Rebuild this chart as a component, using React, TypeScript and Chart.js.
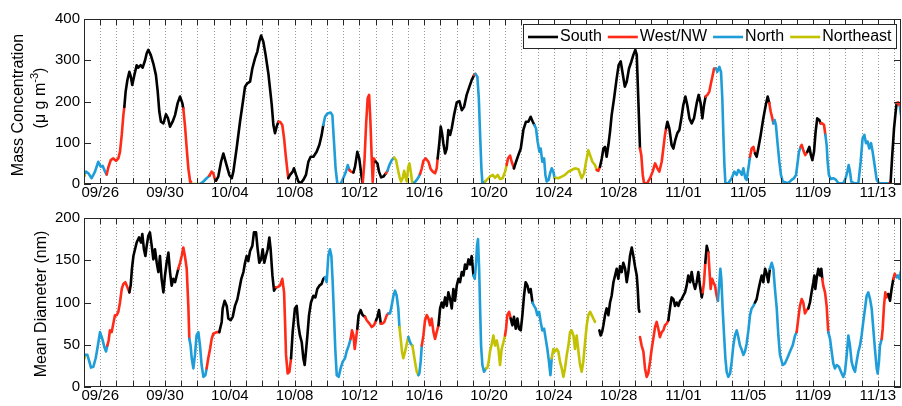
import React, { useEffect, useRef } from 'react';
import { Chart, registerables } from 'chart.js';
Chart.register(...registerables);

const FONT = "'Liberation Sans', Arial, Helvetica, sans-serif";

const windCodes = ['S', 'W', 'N', 'E'];
const windNames = ['South', 'West/NW', 'North', 'Northeast'];
const windColors = ['#000000', '#ff2a17', '#1e9dd9', '#c2c200'];

// day 0 = 09/25 00:00
const tickDays = [1, 5, 9, 13, 17, 21, 25, 29, 33, 37, 41, 45, 49];
const tickLabels = ['09/26', '09/30', '10/04', '10/08', '10/12', '10/16', '10/20', '10/24', '10/28', '11/01', '11/05', '11/09', '11/13'];
const dayMax = 50.43;

const massTicks = [0, 100, 200, 300, 400];
const diamTicks = [0, 50, 100, 150, 200];

// [day, mass concentration (ug m-3), wind sector]
const massSeries: [number, number | null, string][] = [
  [0.00, 20, 'E'], [0.05, 27, 'E'], [0.12, 30, 'N'], [0.27, 26, 'N'], [0.47, 14, 'N'], [0.68, 30, 'N'], [0.88, 54, 'N'],
  [1.03, 42, 'N'], [1.15, 44, 'N'], [1.30, 30, 'N'], [1.40, 23, 'N'], [1.50, 40, 'W'], [1.65, 58, 'W'], [1.81, 62, 'W'],
  [1.98, 56, 'W'], [2.12, 62, 'W'], [2.22, 78, 'W'], [2.33, 119, 'W'], [2.43, 167, 'W'], [2.49, 187, 'W'],
  [2.57, 224, 'S'], [2.68, 252, 'S'], [2.80, 272, 'S'], [2.88, 262, 'S'], [2.98, 240, 'S'], [3.11, 264, 'S'],
  [3.25, 288, 'S'], [3.35, 282, 'S'], [3.50, 288, 'S'], [3.62, 282, 'S'], [3.77, 300, 'S'], [3.87, 317, 'S'],
  [3.97, 325, 'S'], [4.12, 313, 'S'], [4.28, 292, 'S'], [4.44, 264, 'S'], [4.55, 224, 'S'], [4.65, 175, 'S'],
  [4.75, 151, 'S'], [4.90, 147, 'S'], [5.06, 169, 'S'], [5.18, 160, 'S'], [5.31, 139, 'S'], [5.47, 151, 'S'],
  [5.62, 167, 'S'], [5.78, 196, 'S'], [5.93, 212, 'S'], [6.07, 196, 'S'], [6.13, 183, 'S'], [6.23, 143, 'W'],
  [6.34, 86, 'W'], [6.44, 38, 'W'], [6.55, 6, 'W'], [6.60, 0, 'W'], [6.75, 0, 'E'], [7.16, 0, 'E'], [7.37, 6, 'N'],
  [7.57, 14, 'N'], [7.74, 20, 'N'], [7.88, 30, 'W'], [7.98, 26, 'W'], [8.09, 10, 'W'], [8.15, 8, 'W'],
  [8.29, 18, 'S'], [8.46, 54, 'S'], [8.60, 74, 'S'], [8.80, 46, 'S'], [8.97, 22, 'S'], [9.12, 14, 'S'], [9.22, 30, 'S'],
  [9.42, 86, 'S'], [9.63, 151, 'S'], [9.84, 208, 'S'], [9.94, 236, 'S'], [10.08, 244, 'S'], [10.25, 248, 'S'],
  [10.39, 280, 'S'], [10.56, 305, 'S'], [10.70, 321, 'S'], [10.82, 345, 'S'], [10.93, 360, 'S'], [11.07, 345, 'S'],
  [11.21, 313, 'S'], [11.38, 268, 'S'], [11.48, 232, 'S'], [11.59, 191, 'S'], [11.69, 143, 'S'], [11.79, 123, 'S'],
  [11.89, 139, 'S'], [12.00, 151, 'S'], [12.10, 151, 'W'], [12.24, 143, 'W'], [12.35, 111, 'W'], [12.45, 70, 'W'],
  [12.55, 34, 'W'], [12.61, 14, 'W'], [12.72, 22, 'S'], [12.88, 30, 'S'], [12.96, 38, 'S'], [13.09, 22, 'S'],
  [13.23, 6, 'S'], [13.38, 2, 'S'], [13.54, 10, 'S'], [13.70, 22, 'S'], [13.85, 54, 'S'], [13.99, 66, 'S'],
  [14.16, 66, 'S'], [14.36, 78, 'S'], [14.53, 95, 'S'], [14.67, 119, 'S'], [14.77, 143, 'S'], [14.88, 163, 'N'],
  [15.02, 171, 'N'], [15.23, 173, 'N'], [15.33, 167, 'N'], [15.43, 103, 'N'], [15.53, 38, 'N'], [15.64, 0, 'N'],
  [15.84, 0, 'N'], [16.00, 14, 'N'], [16.17, 30, 'N'], [16.28, 46, 'N'], [16.38, 34, 'N'], [16.48, 30, 'W'],
  [16.63, 28, 'W'], [16.73, 42, 'S'], [16.87, 78, 'S'], [16.99, 62, 'S'], [17.12, 22, 'S'], [17.20, 0, 'S'],
  [17.31, 54, 'W'], [17.41, 143, 'W'], [17.51, 208, 'W'], [17.60, 216, 'W'], [17.68, 151, 'W'], [17.76, 62, 'W'],
  [17.82, 5, 'W'], [17.90, 62, 'W'], [18.00, 54, 'W'], [18.11, 50, 'S'], [18.21, 30, 'S'], [18.34, 16, 'S'],
  [18.48, 18, 'S'], [18.64, 26, 'S'], [18.73, 32, 'W'], [18.85, 46, 'N'], [19.00, 58, 'N'], [19.14, 64, 'N'],
  [19.26, 58, 'E'], [19.36, 38, 'E'], [19.47, 18, 'E'], [19.57, 6, 'E'], [19.67, 14, 'E'], [19.76, 32, 'E'],
  [19.84, 18, 'E'], [19.92, 6, 'E'], [20.02, 42, 'E'], [20.09, 50, 'E'], [20.17, 30, 'E'], [20.25, 6, 'E'],
  [20.37, 2, 'E'], [20.50, 8, 'N'], [20.64, 16, 'N'], [20.74, 24, 'N'], [20.85, 38, 'W'], [20.95, 56, 'W'],
  [21.09, 62, 'W'], [21.26, 54, 'W'], [21.40, 36, 'W'], [21.53, 30, 'W'], [21.67, 26, 'W'], [21.77, 38, 'W'],
  [21.83, 62, 'W'], [21.94, 103, 'S'], [22.02, 139, 'S'], [22.10, 123, 'S'], [22.18, 99, 'S'], [22.29, 74, 'S'],
  [22.39, 86, 'S'], [22.49, 131, 'S'], [22.60, 119, 'S'], [22.70, 135, 'S'], [22.84, 167, 'S'], [23.01, 198, 'S'],
  [23.17, 201, 'S'], [23.32, 179, 'S'], [23.46, 187, 'S'], [23.62, 216, 'S'], [23.79, 236, 'S'], [23.93, 252, 'S'],
  [24.08, 264, 'S'], [24.16, 267, 'W'], [24.28, 260, 'N'], [24.37, 208, 'N'], [24.45, 119, 'N'], [24.53, 38, 'N'],
  [24.59, 2, 'N'], [24.76, 6, 'N'], [24.86, 10, 'E'], [25.06, 18, 'E'], [25.23, 22, 'E'], [25.37, 15, 'E'],
  [25.54, 22, 'E'], [25.68, 12, 'E'], [25.84, 14, 'E'], [25.99, 30, 'E'], [26.09, 46, 'E'], [26.17, 62, 'W'],
  [26.30, 69, 'W'], [26.40, 54, 'W'], [26.54, 38, 'W'], [26.67, 54, 'S'], [26.81, 70, 'S'], [26.96, 86, 'S'],
  [27.12, 131, 'S'], [27.28, 151, 'S'], [27.43, 151, 'S'], [27.57, 163, 'S'], [27.70, 151, 'S'], [27.80, 143, 'S'],
  [27.90, 135, 'N'], [28.00, 103, 'N'], [28.11, 78, 'N'], [28.19, 86, 'N'], [28.29, 54, 'N'], [28.40, 62, 'N'],
  [28.48, 22, 'N'], [28.56, 6, 'N'], [28.68, 10, 'N'], [28.77, 26, 'N'], [28.87, 38, 'N'], [28.97, 30, 'N'],
  [29.05, 14, 'N'], [29.14, 15, 'E'], [29.28, 14, 'E'], [29.49, 18, 'E'], [29.69, 22, 'E'], [29.90, 30, 'E'],
  [30.10, 34, 'E'], [30.31, 38, 'E'], [30.52, 36, 'E'], [30.72, 14, 'E'], [30.87, 26, 'E'], [30.99, 54, 'E'],
  [31.13, 82, 'E'], [31.24, 70, 'E'], [31.38, 54, 'E'], [31.54, 46, 'E'], [31.65, 34, 'E'], [31.75, 32, 'W'],
  [31.85, 42, 'W'], [31.96, 62, 'S'], [32.06, 86, 'S'], [32.16, 90, 'S'], [32.26, 66, 'S'], [32.37, 95, 'S'],
  [32.47, 127, 'S'], [32.57, 167, 'S'], [32.72, 208, 'S'], [32.88, 256, 'S'], [33.00, 288, 'S'], [33.13, 297, 'S'],
  [33.25, 268, 'S'], [33.38, 236, 'S'], [33.50, 248, 'S'], [33.64, 280, 'S'], [33.79, 297, 'S'], [33.91, 313, 'S'],
  [34.03, 325, 'S'], [34.12, 313, 'S'], [34.22, 200, 'S'], [34.32, 86, 'S'], [34.40, 70, 'W'], [34.49, 22, 'W'],
  [34.57, 2, 'W'], [34.77, 2, 'W'], [34.94, 14, 'W'], [35.10, 30, 'W'], [35.25, 50, 'W'], [35.39, 38, 'W'],
  [35.51, 30, 'W'], [35.66, 54, 'W'], [35.76, 86, 'W'], [35.86, 119, 'W'], [35.93, 135, 'W'], [36.01, 151, 'S'],
  [36.13, 135, 'S'], [36.27, 95, 'S'], [36.38, 86, 'S'], [36.50, 107, 'S'], [36.62, 123, 'S'], [36.75, 131, 'S'],
  [36.87, 159, 'S'], [36.99, 191, 'S'], [37.12, 212, 'S'], [37.24, 191, 'S'], [37.37, 159, 'S'], [37.51, 147, 'S'],
  [37.65, 159, 'S'], [37.82, 196, 'S'], [37.94, 216, 'S'], [38.06, 196, 'S'], [38.17, 159, 'S'], [38.27, 191, 'S'],
  [38.37, 212, 'S'], [38.48, 216, 'W'], [38.60, 224, 'W'], [38.70, 244, 'W'], [38.81, 264, 'W'], [38.89, 280, 'W'],
  [39.01, 280, 'W'], [39.09, 272, 'N'], [39.22, 284, 'N'], [39.32, 272, 'N'], [39.40, 208, 'N'], [39.46, 127, 'N'],
  [39.53, 46, 'N'], [39.59, 2, 'N'], [39.77, 2, 'N'], [39.98, 14, 'N'], [40.14, 30, 'N'], [40.29, 22, 'N'],
  [40.39, 34, 'N'], [40.49, 30, 'N'], [40.60, 22, 'N'], [40.70, 38, 'N'], [40.82, 14, 'N'], [40.90, 10, 'N'],
  [41.01, 38, 'N'], [41.11, 66, 'N'], [41.21, 86, 'W'], [41.32, 90, 'W'], [41.42, 74, 'W'], [41.52, 66, 'S'],
  [41.62, 86, 'S'], [41.77, 119, 'S'], [41.93, 159, 'S'], [42.08, 191, 'S'], [42.20, 212, 'S'], [42.30, 196, 'S'],
  [42.39, 175, 'W'], [42.49, 159, 'W'], [42.55, 147, 'W'], [42.63, 155, 'N'], [42.71, 143, 'N'], [42.80, 103, 'N'],
  [42.92, 54, 'N'], [43.02, 22, 'N'], [43.13, 6, 'N'], [43.47, 2, 'N'], [43.68, 10, 'N'], [43.82, 14, 'N'],
  [43.95, 22, 'N'], [44.03, 46, 'N'], [44.13, 78, 'N'], [44.24, 90, 'N'], [44.30, 95, 'W'], [44.40, 82, 'W'],
  [44.52, 70, 'W'], [44.65, 78, 'W'], [44.77, 90, 'S'], [44.87, 70, 'S'], [44.96, 58, 'S'], [45.06, 78, 'S'],
  [45.16, 127, 'S'], [45.26, 159, 'S'], [45.39, 155, 'S'], [45.47, 147, 'S'], [45.57, 147, 'W'], [45.68, 143, 'W'],
  [45.76, 119, 'W'], [45.84, 95, 'N'], [45.90, 54, 'N'], [45.98, 22, 'N'], [46.09, 12, 'N'], [46.25, 14, 'N'],
  [46.42, 10, 'N'], [46.56, 2, 'N'], [46.87, 2, 'N'], [47.01, 14, 'N'], [47.12, 30, 'N'], [47.20, 46, 'N'],
  [47.28, 30, 'N'], [47.36, 6, 'N'], [47.53, 2, 'N'], [47.80, 2, 'N'], [47.94, 54, 'N'], [48.06, 111, 'N'],
  [48.17, 119, 'N'], [48.27, 99, 'N'], [48.37, 103, 'N'], [48.47, 86, 'N'], [48.58, 99, 'N'], [48.68, 78, 'N'],
  [48.80, 46, 'N'], [48.93, 10, 'N'], [49.07, 2, 'N'], [49.71, 2, 'N'], [49.79, 5, 'W'], [49.89, 70, 'S'],
  [50.00, 135, 'S'], [50.10, 175, 'S'], [50.16, 196, 'S'], [50.26, 198, 'W'], [50.37, 187, 'W'], [50.43, 167, 'N'],
  [50.49, 140, 'N'],
];

// [day, mean diameter (nm), wind sector]
const diamSeries: [number, number | null, string][] = [
  [0.00, 34, 'E'], [0.05, 38, 'E'], [0.12, 38, 'N'], [0.21, 38, 'N'], [0.33, 30, 'N'], [0.43, 23, 'N'], [0.58, 24, 'N'],
  [0.72, 34, 'N'], [0.84, 47, 'N'], [0.99, 65, 'N'], [1.13, 57, 'N'], [1.26, 47, 'N'], [1.36, 42, 'N'], [1.44, 49, 'N'],
  [1.52, 55, 'W'], [1.60, 67, 'W'], [1.71, 65, 'W'], [1.81, 75, 'W'], [1.91, 85, 'W'], [2.02, 85, 'W'], [2.12, 89, 'W'],
  [2.22, 100, 'W'], [2.33, 116, 'W'], [2.43, 122, 'W'], [2.55, 124, 'W'], [2.68, 118, 'W'], [2.80, 112, 'W'],
  [2.88, 120, 'S'], [2.96, 140, 'S'], [3.05, 155, 'S'], [3.15, 163, 'S'], [3.25, 171, 'S'], [3.40, 177, 'S'],
  [3.52, 171, 'S'], [3.60, 181, 'S'], [3.70, 163, 'S'], [3.79, 155, 'S'], [3.87, 167, 'S'], [3.97, 179, 'S'],
  [4.07, 183, 'S'], [4.18, 167, 'S'], [4.28, 151, 'S'], [4.38, 163, 'S'], [4.49, 147, 'S'], [4.59, 136, 'S'],
  [4.69, 155, 'S'], [4.79, 128, 'S'], [4.90, 112, 'S'], [5.00, 132, 'S'], [5.10, 147, 'S'], [5.21, 159, 'S'],
  [5.31, 136, 'S'], [5.41, 120, 'S'], [5.51, 128, 'S'], [5.62, 124, 'S'], [5.72, 132, 'S'], [5.82, 140, 'S'],
  [5.93, 147, 'W'], [6.03, 155, 'W'], [6.13, 165, 'W'], [6.23, 155, 'W'], [6.34, 140, 'W'], [6.44, 96, 'W'],
  [6.50, 57, 'W'], [6.58, 49, 'N'], [6.65, 34, 'N'], [6.75, 22, 'N'], [6.85, 38, 'N'], [6.95, 61, 'N'], [7.06, 65, 'N'],
  [7.16, 49, 'N'], [7.26, 26, 'N'], [7.37, 12, 'N'], [7.49, 14, 'N'], [7.57, 22, 'N'], [7.67, 34, 'W'], [7.78, 45, 'W'],
  [7.88, 57, 'W'], [7.98, 63, 'W'], [8.19, 65, 'W'], [8.35, 65, 'W'], [8.50, 77, 'S'], [8.56, 93, 'S'], [8.68, 102, 'S'],
  [8.81, 96, 'S'], [8.91, 81, 'S'], [9.05, 79, 'S'], [9.18, 83, 'S'], [9.32, 96, 'S'], [9.47, 104, 'S'], [9.59, 116, 'S'],
  [9.71, 128, 'S'], [9.84, 136, 'S'], [9.94, 147, 'S'], [10.04, 155, 'S'], [10.14, 149, 'S'], [10.25, 161, 'S'],
  [10.39, 167, 'S'], [10.49, 183, 'S'], [10.62, 183, 'S'], [10.72, 163, 'S'], [10.82, 147, 'S'], [10.93, 151, 'S'],
  [11.03, 163, 'S'], [11.13, 147, 'S'], [11.23, 155, 'S'], [11.34, 163, 'S'], [11.44, 177, 'S'], [11.52, 163, 'S'],
  [11.63, 132, 'S'], [11.73, 114, 'S'], [11.85, 118, 'S'], [11.93, 118, 'W'], [12.10, 120, 'W'], [12.24, 128, 'W'],
  [12.35, 112, 'W'], [12.41, 77, 'W'], [12.47, 38, 'W'], [12.57, 16, 'W'], [12.68, 18, 'W'], [12.78, 34, 'W'],
  [12.88, 65, 'S'], [13.02, 93, 'S'], [13.13, 96, 'S'], [13.23, 73, 'S'], [13.33, 61, 'S'], [13.44, 53, 'S'],
  [13.54, 34, 'S'], [13.62, 26, 'S'], [13.70, 42, 'S'], [13.79, 61, 'S'], [13.89, 85, 'S'], [14.01, 100, 'S'],
  [14.16, 108, 'S'], [14.28, 106, 'S'], [14.40, 116, 'S'], [14.53, 120, 'S'], [14.67, 122, 'S'], [14.77, 128, 'S'],
  [14.88, 130, 'S'], [14.98, 124, 'N'], [15.08, 155, 'N'], [15.18, 163, 'N'], [15.27, 155, 'N'], [15.35, 124, 'N'],
  [15.43, 85, 'N'], [15.51, 45, 'N'], [15.60, 14, 'N'], [15.72, 12, 'N'], [15.84, 22, 'N'], [15.97, 30, 'N'],
  [16.11, 34, 'N'], [16.21, 42, 'N'], [16.34, 49, 'N'], [16.46, 57, 'N'], [16.54, 67, 'W'], [16.63, 61, 'W'],
  [16.71, 45, 'W'], [16.79, 57, 'W'], [16.87, 69, 'W'], [16.95, 85, 'S'], [17.08, 91, 'S'], [17.20, 85, 'S'],
  [17.35, 83, 'S'], [17.45, 79, 'W'], [17.62, 75, 'W'], [17.76, 71, 'W'], [17.90, 73, 'W'], [18.03, 79, 'W'],
  [18.11, 83, 'S'], [18.21, 91, 'S'], [18.32, 75, 'S'], [18.42, 75, 'W'], [18.54, 77, 'W'], [18.69, 85, 'W'],
  [18.79, 87, 'W'], [18.89, 87, 'N'], [18.99, 96, 'N'], [19.10, 108, 'N'], [19.20, 114, 'N'], [19.30, 108, 'N'],
  [19.40, 93, 'N'], [19.47, 71, 'N'], [19.55, 57, 'E'], [19.63, 42, 'E'], [19.71, 34, 'E'], [19.82, 42, 'E'],
  [19.92, 51, 'E'], [20.02, 59, 'E'], [20.09, 55, 'N'], [20.17, 51, 'N'], [20.27, 49, 'N'], [20.33, 42, 'E'],
  [20.43, 30, 'E'], [20.54, 18, 'E'], [20.64, 14, 'E'], [20.70, 16, 'N'], [20.78, 30, 'N'], [20.85, 49, 'N'],
  [20.95, 61, 'W'], [21.05, 79, 'W'], [21.16, 85, 'W'], [21.26, 81, 'W'], [21.36, 73, 'W'], [21.46, 81, 'W'],
  [21.57, 65, 'W'], [21.67, 57, 'W'], [21.77, 65, 'W'], [21.88, 73, 'W'], [21.98, 93, 'S'], [22.08, 100, 'S'],
  [22.18, 94, 'S'], [22.29, 106, 'S'], [22.39, 96, 'S'], [22.49, 112, 'S'], [22.60, 104, 'S'], [22.70, 93, 'S'],
  [22.80, 116, 'S'], [22.90, 102, 'S'], [23.01, 120, 'S'], [23.11, 128, 'S'], [23.21, 124, 'S'], [23.32, 136, 'S'],
  [23.42, 132, 'S'], [23.52, 145, 'S'], [23.62, 140, 'S'], [23.73, 151, 'S'], [23.83, 145, 'S'], [23.93, 155, 'S'],
  [24.04, 132, 'S'], [24.12, 128, 'N'], [24.20, 147, 'N'], [24.26, 167, 'N'], [24.32, 175, 'N'], [24.39, 140, 'N'],
  [24.45, 93, 'N'], [24.51, 49, 'N'], [24.59, 26, 'N'], [24.69, 18, 'N'], [24.82, 22, 'N'], [24.90, 23, 'E'],
  [24.98, 30, 'E'], [25.06, 42, 'E'], [25.17, 51, 'E'], [25.27, 61, 'E'], [25.37, 49, 'E'], [25.48, 55, 'E'],
  [25.58, 45, 'E'], [25.68, 26, 'E'], [25.78, 45, 'E'], [25.89, 53, 'E'], [25.99, 61, 'E'], [26.05, 69, 'W'],
  [26.13, 85, 'W'], [26.24, 89, 'W'], [26.34, 81, 'W'], [26.44, 73, 'S'], [26.54, 83, 'S'], [26.65, 69, 'S'],
  [26.75, 81, 'S'], [26.85, 69, 'S'], [26.96, 67, 'S'], [27.06, 85, 'S'], [27.16, 108, 'S'], [27.26, 124, 'S'],
  [27.37, 120, 'S'], [27.47, 112, 'S'], [27.57, 116, 'S'], [27.68, 100, 'S'], [27.78, 96, 'N'], [27.88, 93, 'N'],
  [27.98, 85, 'N'], [28.09, 89, 'N'], [28.19, 77, 'N'], [28.29, 67, 'N'], [28.40, 69, 'N'], [28.50, 57, 'N'],
  [28.60, 45, 'N'], [28.70, 30, 'N'], [28.79, 14, 'N'], [28.87, 34, 'N'], [28.97, 45, 'E'], [29.07, 42, 'E'],
  [29.18, 45, 'E'], [29.28, 42, 'E'], [29.38, 30, 'E'], [29.49, 22, 'E'], [29.59, 12, 'E'], [29.69, 22, 'E'],
  [29.80, 38, 'E'], [29.90, 49, 'E'], [30.00, 65, 'E'], [30.10, 67, 'E'], [30.21, 61, 'E'], [30.31, 45, 'E'],
  [30.41, 61, 'E'], [30.52, 42, 'E'], [30.62, 26, 'E'], [30.72, 18, 'E'], [30.82, 30, 'E'], [30.93, 53, 'E'],
  [31.03, 73, 'E'], [31.13, 85, 'E'], [31.24, 89, 'E'], [31.34, 85, 'E'], [31.44, 81, 'E'], [31.54, 77, 'E'],
  [31.68, null, 'E'], [31.81, 67, 'S'], [31.89, 61, 'S'], [31.98, 65, 'S'], [32.06, 73, 'S'], [32.16, 85, 'S'],
  [32.26, 93, 'S'], [32.37, 85, 'S'], [32.47, 100, 'S'], [32.57, 108, 'S'], [32.68, 124, 'S'], [32.78, 132, 'S'],
  [32.88, 140, 'S'], [32.98, 128, 'S'], [33.09, 143, 'S'], [33.19, 136, 'S'], [33.29, 147, 'S'], [33.40, 140, 'S'],
  [33.50, 124, 'S'], [33.60, 136, 'S'], [33.70, 155, 'S'], [33.81, 165, 'S'], [33.91, 155, 'S'], [34.01, 143, 'S'],
  [34.12, 132, 'S'], [34.18, 116, 'S'], [34.24, 93, 'S'], [34.28, 89, 'S'], [34.30, null, 'S'], [34.32, 59, 'W'],
  [34.42, 49, 'W'], [34.53, 42, 'W'], [34.63, 22, 'W'], [34.73, 12, 'W'], [34.83, 16, 'W'], [34.94, 30, 'W'],
  [35.04, 45, 'W'], [35.14, 57, 'W'], [35.25, 71, 'W'], [35.35, 77, 'W'], [35.45, 69, 'W'], [35.55, 59, 'W'],
  [35.66, 65, 'W'], [35.76, 67, 'W'], [35.86, 73, 'W'], [35.97, 75, 'W'], [36.07, 79, 'W'], [36.17, 93, 'S'],
  [36.27, 106, 'S'], [36.38, 104, 'S'], [36.48, 96, 'S'], [36.58, 100, 'S'], [36.69, 96, 'S'], [36.79, 102, 'S'],
  [36.89, 104, 'S'], [36.99, 108, 'S'], [37.10, 112, 'S'], [37.20, 120, 'S'], [37.30, 132, 'S'], [37.41, 124, 'S'],
  [37.51, 136, 'S'], [37.61, 124, 'S'], [37.72, 116, 'S'], [37.82, 124, 'S'], [37.92, 136, 'S'], [38.02, 120, 'S'],
  [38.13, 106, 'S'], [38.19, 112, 'S'], [38.27, 124, 'W'], [38.35, 147, 'W'], [38.44, 167, 'S'], [38.54, 159, 'S'],
  [38.60, 140, 'W'], [38.68, 116, 'W'], [38.77, 128, 'W'], [38.85, 124, 'W'], [38.95, 120, 'W'], [39.05, 108, 'W'],
  [39.13, 102, 'W'], [39.22, 124, 'N'], [39.28, 140, 'N'], [39.34, 128, 'N'], [39.42, 93, 'N'], [39.51, 61, 'N'],
  [39.59, 34, 'N'], [39.67, 18, 'N'], [39.77, 12, 'N'], [39.88, 16, 'N'], [39.98, 30, 'N'], [40.08, 49, 'N'],
  [40.18, 61, 'N'], [40.29, 67, 'N'], [40.39, 59, 'N'], [40.49, 49, 'N'], [40.60, 44, 'N'], [40.70, 38, 'N'],
  [40.80, 42, 'N'], [40.90, 51, 'N'], [41.01, 67, 'N'], [41.11, 85, 'N'], [41.21, 93, 'N'], [41.32, 96, 'N'],
  [41.42, 100, 'N'], [41.52, 104, 'S'], [41.62, 114, 'S'], [41.73, 124, 'S'], [41.83, 132, 'S'], [41.93, 124, 'S'],
  [42.04, 140, 'S'], [42.14, 134, 'S'], [42.24, 124, 'S'], [42.34, 140, 'S'], [42.45, 147, 'N'], [42.55, 140, 'N'],
  [42.65, 116, 'N'], [42.76, 93, 'N'], [42.86, 61, 'N'], [42.96, 38, 'N'], [43.13, 26, 'N'], [43.27, 28, 'N'],
  [43.41, 34, 'N'], [43.58, 42, 'N'], [43.74, 49, 'N'], [43.89, 61, 'N'], [43.99, 65, 'N'], [44.09, 81, 'W'],
  [44.19, 96, 'W'], [44.30, 104, 'W'], [44.40, 100, 'W'], [44.50, 87, 'W'], [44.61, 91, 'W'], [44.71, 93, 'W'],
  [44.81, 100, 'S'], [44.91, 112, 'S'], [45.02, 124, 'S'], [45.08, 132, 'S'], [45.14, 116, 'S'], [45.22, 128, 'S'],
  [45.33, 140, 'S'], [45.43, 132, 'S'], [45.51, 140, 'S'], [45.57, 128, 'S'], [45.63, 120, 'W'], [45.74, 112, 'W'],
  [45.84, 96, 'W'], [45.94, 65, 'W'], [46.05, 57, 'N'], [46.15, 42, 'N'], [46.25, 28, 'N'], [46.35, 22, 'N'],
  [46.46, 26, 'N'], [46.60, 24, 'N'], [46.77, 16, 'N'], [46.87, 12, 'N'], [46.97, 18, 'N'], [47.08, 38, 'N'],
  [47.18, 61, 'N'], [47.28, 49, 'N'], [47.38, 30, 'N'], [47.49, 22, 'N'], [47.59, 18, 'N'], [47.69, 30, 'N'],
  [47.80, 42, 'N'], [47.90, 49, 'N'], [48.00, 61, 'N'], [48.10, 77, 'N'], [48.21, 93, 'N'], [48.31, 108, 'N'],
  [48.41, 112, 'N'], [48.52, 104, 'N'], [48.62, 93, 'N'], [48.72, 69, 'N'], [48.82, 45, 'N'], [48.93, 22, 'N'],
  [48.99, 16, 'N'], [49.07, 30, 'N'], [49.13, 49, 'N'], [49.24, 57, 'N'], [49.30, 69, 'W'], [49.38, 96, 'W'],
  [49.46, 112, 'W'], [49.54, 106, 'W'], [49.65, 110, 'W'], [49.75, 102, 'S'], [49.85, 116, 'S'], [49.96, 128, 'S'],
  [50.04, 134, 'W'], [50.16, 130, 'W'], [50.24, 132, 'N'], [50.33, 128, 'N'], [50.41, 136, 'N'], [50.49, 140, 'N'],
];

const colorOf = (code: string) => windColors[windCodes.indexOf(code)] || '#000';

function framePlugin(yTitle: (ctx: CanvasRenderingContext2D) => void, withLegend: boolean) {
  return {
    id: 'frame',
    beforeDatasetsDraw(chart: any) {
      const { ctx, chartArea: a, scales } = chart;
      const x = scales.x;
      ctx.save();
      ctx.strokeStyle = '#9a9a9a';
      ctx.lineWidth = 1;
      ctx.setLineDash([1, 2]);
      for (let d = 1; d <= Math.floor(dayMax); d++) {
        const px = Math.round(x.getPixelForValue(d)) + 0.5;
        ctx.beginPath();
        ctx.moveTo(px, a.top);
        ctx.lineTo(px, a.bottom);
        ctx.stroke();
      }
      ctx.restore();
    },
    afterDatasetsDraw(chart: any) {
      const { ctx, chartArea: a, scales } = chart;
      const x = scales.x;
      const y = scales.y;
      ctx.save();
      ctx.strokeStyle = '#262626';
      ctx.lineWidth = 1;
      ctx.setLineDash([]);
      ctx.strokeRect(a.left + 0.5, a.top + 0.5, a.right - a.left - 1, a.bottom - a.top - 1);
      ctx.beginPath();
      for (let d = 1; d <= Math.floor(dayMax); d++) {
        const px = Math.round(x.getPixelForValue(d)) + 0.5;
        ctx.moveTo(px, a.bottom);
        ctx.lineTo(px, a.bottom - 6);
        ctx.moveTo(px, a.top);
        ctx.lineTo(px, a.top + 6);
      }
      y.ticks.forEach((t: any) => {
        const py = Math.round(y.getPixelForValue(t.value)) + 0.5;
        ctx.moveTo(a.left, py);
        ctx.lineTo(a.left + 7, py);
        ctx.moveTo(a.right, py);
        ctx.lineTo(a.right - 7, py);
      });
      ctx.stroke();
      ctx.restore();
    },
    afterDraw(chart: any) {
      const { ctx } = chart;
      ctx.save();
      ctx.fillStyle = '#000';
      yTitle(ctx);
      ctx.restore();
      if (withLegend) {
        ctx.save();
        const bx = 523.5, by = 24.5, bw = 373, bh = 24;
        ctx.fillStyle = '#fff';
        ctx.fillRect(bx, by, bw, bh);
        ctx.strokeStyle = '#262626';
        ctx.lineWidth = 1;
        ctx.strokeRect(bx, by, bw, bh);
        ctx.font = `16px ${FONT}`;
        ctx.textBaseline = 'middle';
        ctx.textAlign = 'left';
        let cx = 528;
        const cy = 37;
        windNames.forEach((name, i) => {
          ctx.strokeStyle = windColors[i];
          ctx.lineWidth = 2.6;
          ctx.beginPath();
          ctx.moveTo(cx, cy);
          ctx.lineTo(cx + 30, cy);
          ctx.stroke();
          cx += 32;
          ctx.fillStyle = '#000';
          ctx.fillText(name, cx, cy);
          cx += ctx.measureText(name).width + 6;
        });
        ctx.restore();
      }
    },
  };
}

function massTitle(ctx: CanvasRenderingContext2D) {
  ctx.font = `16px ${FONT}`;
  ctx.textBaseline = 'middle';
  ctx.save();
  ctx.translate(19, 105);
  ctx.rotate(-Math.PI / 2);
  ctx.textAlign = 'center';
  ctx.fillText('Mass Concentration', 0, 0);
  ctx.restore();
  // second line: (μ g m^-3)
  const p1 = '(\u03bc g m';
  const sup = '-3';
  const p3 = ')';
  ctx.font = `16px ${FONT}`;
  const w1 = ctx.measureText(p1).width;
  const w3 = ctx.measureText(p3).width;
  ctx.font = `11px ${FONT}`;
  const ws = ctx.measureText(sup).width;
  const total = w1 + ws + w3;
  ctx.save();
  ctx.translate(41, 98);
  ctx.rotate(-Math.PI / 2);
  ctx.textAlign = 'left';
  let sx = -total / 2;
  ctx.font = `16px ${FONT}`;
  ctx.fillText(p1, sx, 0);
  sx += w1;
  ctx.font = `11px ${FONT}`;
  ctx.fillText(sup, sx, -6);
  sx += ws;
  ctx.font = `16px ${FONT}`;
  ctx.fillText(p3, sx, 0);
  ctx.restore();
}

function diamTitle(ctx: CanvasRenderingContext2D) {
  ctx.font = `16px ${FONT}`;
  ctx.textBaseline = 'middle';
  ctx.save();
  ctx.translate(42, 101);
  ctx.rotate(-Math.PI / 2);
  ctx.textAlign = 'center';
  ctx.fillText('Mean Diameter (nm)', 0, 0);
  ctx.restore();
}

function buildConfig(series: [number, number | null, string][], yMax: number, yStep: number, topPad: number, title: (c: CanvasRenderingContext2D) => void, legend: boolean): any {
  return {
    type: 'line',
    data: {
      datasets: [
        {
          data: series.map(([x, y]) => ({ x, y })),
          borderColor: '#000',
          borderWidth: 2.6,
          pointRadius: 0,
          tension: 0,
          spanGaps: false,
          borderJoinStyle: 'round',
          borderCapStyle: 'round',
          segment: {
            borderColor: (c: any) => colorOf(series[c.p1DataIndex][2]),
          },
        },
      ],
    },
    options: {
      responsive: false,
      animation: false,
      events: [],
      layout: { padding: { top: topPad, right: 1, left: 0, bottom: 0 } },
      plugins: { legend: { display: false }, tooltip: { enabled: false } },
      scales: {
        x: {
          type: 'linear',
          min: 0,
          max: dayMax,
          grid: { display: false, drawTicks: false, tickLength: 0 },
          border: { display: false },
          afterFit: (s: any) => { s.height = 19; },
          ticks: {
            stepSize: 1,
            autoSkip: false,
            maxRotation: 0,
            minRotation: 0,
            padding: 0,
            color: '#000',
            font: { family: FONT, size: 15 },
            callback: (v: number) => {
              const i = tickDays.indexOf(Math.round(v * 1000) / 1000);
              return i >= 0 ? tickLabels[i] : '';
            },
          },
        },
        y: {
          min: 0,
          max: yMax,
          grid: { display: false, drawTicks: false, tickLength: 0 },
          border: { display: false },
          afterFit: (s: any) => { s.width = 84; },
          ticks: {
            stepSize: yStep,
            padding: 4,
            color: '#000',
            font: { family: FONT, size: 15 },
          },
        },
      },
    },
    plugins: [framePlugin(title, legend)],
  };
}

export default function App() {
  const topRef = useRef<HTMLCanvasElement | null>(null);
  const botRef = useRef<HTMLCanvasElement | null>(null);

  useEffect(() => {
    document.body.style.margin = '0';
    Chart.defaults.font.family = FONT;
    const c1 = new Chart(topRef.current as HTMLCanvasElement, buildConfig(massSeries, massTicks[massTicks.length - 1], massTicks[1] - massTicks[0], 19, massTitle, true));
    const c2 = new Chart(botRef.current as HTMLCanvasElement, buildConfig(diamSeries, diamTicks[diamTicks.length - 1], diamTicks[1] - diamTicks[0], 15, diamTitle, false));
    return () => {
      c1.destroy();
      c2.destroy();
    };
  }, []);

  return (
    <div style={{ position: 'absolute', left: 0, top: 0, width: 902, height: 406, background: '#fff' }}>
      <canvas ref={topRef} width={902} height={203} style={{ display: 'block', width: 902, height: 203 }} />
      <canvas ref={botRef} width={902} height={203} style={{ display: 'block', width: 902, height: 203 }} />
    </div>
  );
}
